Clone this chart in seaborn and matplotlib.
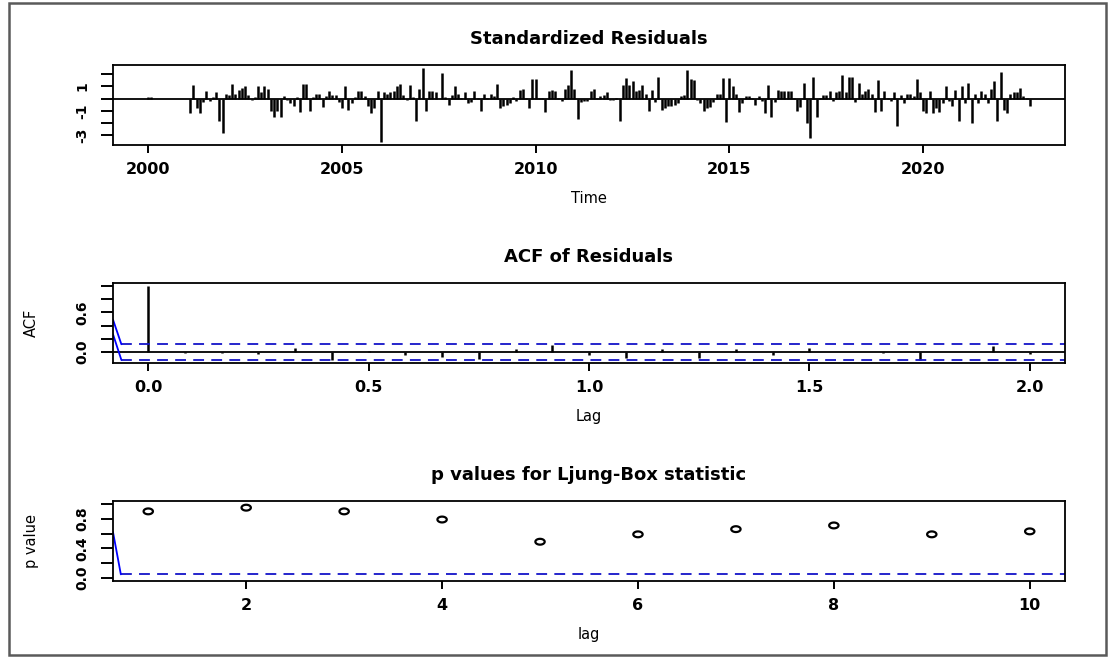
import numpy as np
import matplotlib
matplotlib.use("Agg")
import matplotlib.pyplot as plt
import seaborn as sns
from matplotlib.path import Path
from matplotlib.patches import Rectangle

# standardized residuals, monthly from Jan 2000
start_year = 2000
freq = 12
r2000 = [0.1, 0.1, 0, 0, 0, 0, 0, 0, 0, 0, 0, 0]
r2001 = [0.0, -1.2, 1.1, -0.8, -1.2, -0.3, 0.6, -0.2, 0.1, 0.5, -1.8, -2.8]
r2002 = [0.4, 0.3, 1.2, 0.4, 0.7, 0.9, 1.0, 0.3, -0.1, 0.1, 1.0, 0.5]
r2003 = [1.0, 0.8, -1.0, -1.5, -1.0, -1.5, 0.2, -0.1, -0.4, -0.6, 0.1, -1.1]
r2004 = [1.2, 1.2, -1.0, 0.1, 0.4, 0.4, -0.7, 0.2, 0.6, 0.3, 0.3, -0.3]
r2005 = [-0.8, 1.0, -0.9, -0.4, 0.1, 0.6, 0.6, 0.2, -0.6, -1.2, -0.8, 0.6]
r2006 = [-3.55, 0.5, 0.4, 0.5, 0.6, 1.0, 1.2, 0.3, -0.1, 1.1, 0.1, -1.8]
r2007 = [0.8, 2.5, -1.0, 0.6, 0.6, 0.5, 0.0, 2.1, 0.1, -0.5, 0.3, 1.0]
r2008 = [0.4, 0.05, 0.5, -0.4, -0.3, 0.6, 0.05, -1.0, 0.4, 0.05, 0.4, 0.2]
r2009 = [1.2, -0.8, -0.6, -0.5, -0.4, 0.1, -0.2, 0.7, 0.8, 0.05, -0.8, 1.6]
r2010 = [1.6, 0.05, 0.05, -1.1, 0.6, 0.7, 0.6, 0.05, -0.2, 0.8, 1.1, 2.3]
r2011 = [0.8, -1.7, -0.3, -0.2, -0.2, 0.6, 0.8, 0.05, 0.2, 0.3, 0.5, -0.1]
r2012 = [-0.1, 0.05, -1.8, 1.1, 1.7, 1.1, 1.4, 0.6, 0.7, 1.1, 0.4, -1.0]
r2013 = [0.7, -0.3, 1.8, -0.9, -0.8, -0.6, -0.6, -0.5, -0.4, 0.2, 0.3, 2.3]
r2014 = [1.6, 1.5, -0.1, -0.4, -1.0, -0.8, -0.7, -0.3, 0.4, 0.4, 1.7, -1.9]
r2015 = [1.7, 1.0, 0.4, -1.1, -0.4, 0.2, 0.2, 0.05, -0.5, 0.2, -0.2, -1.2]
r2016 = [1.1, -1.5, -0.3, 0.7, 0.6, 0.6, 0.6, 0.6, 0.05, -1.0, -0.7, 1.3]
r2017 = [-2.0, -3.2, 1.8, -1.5, 0.05, 0.3, 0.3, 0.6, -0.2, 0.5, 0.6, 1.9]
r2018 = [0.5, 1.8, 1.8, -0.3, 1.3, 0.4, 0.6, 0.8, 0.4, -1.1, 1.5, -1.0]
r2019 = [0.6, 0.05, -0.2, 0.5, -2.2, 0.3, -0.4, 0.4, 0.4, 0.2, 1.6, 0.5]
r2020 = [-1.0, -1.2, 0.6, -1.2, -0.8, -1.1, -0.4, 1.0, -0.2, -0.6, 0.7, -1.8]
r2021 = [1.0, -0.4, 1.3, -2.0, 0.4, -0.4, 0.6, 0.4, -0.4, 0.8, 1.4, -1.8]
r2022 = [2.2, -0.9, -1.2, 0.4, 0.5, 0.5, 0.9, 0.2, 0.05, -0.6]
year_ticks = [2000, 2005, 2010, 2015, 2020]
resid_yticks = [-3, -2, -1, 0, 1, 2]
resid_ylabels = ["-3", "", "-1", "", "1", ""]

# ACF of residuals, lags 0..24 (in years)
acf_vals = [1.0, -0.02, -0.01, -0.03, 0.06, -0.12, 0.01, -0.05, -0.07, -0.10, 0.05, 0.11,
            -0.05, -0.09, 0.04, -0.09, 0.05, -0.04, 0.06, 0.0, -0.02, -0.12, 0.0, 0.09, -0.03]
acf_ci = 0.1186
acf_xticks = [0.0, 0.5, 1.0, 1.5, 2.0]
acf_yticks = [0.0, 0.2, 0.4, 0.6, 0.8, 1.0]
acf_ylabels = ["0.0", "", "", "0.6", "", ""]
# stray blue strokes at the left edge of the ACF panel
acf_stub_x = [-0.08, -0.061]
acf_stub_hi = [0.49, 0.1186]
acf_stub_lo = [0.27, -0.1186]

# Ljung-Box p-values
lb_lags = [1, 2, 3, 4, 5, 6, 7, 8, 9, 10]
lb_pvals = [0.90, 0.95, 0.90, 0.79, 0.49, 0.59, 0.66, 0.71, 0.59, 0.63]
lb_level = 0.05
lb_xticks = [2, 4, 6, 8, 10]
lb_yticks = [0.0, 0.2, 0.4, 0.6, 0.8, 1.0]
lb_ylabels = ["0.0", "", "0.4", "", "0.8", ""]
lb_stub_x = [0.64, 0.72]
lb_stub_y = [0.62, 0.05]

resid = np.concatenate([r2000, r2001, r2002, r2003, r2004, r2005, r2006, r2007,
                        r2008, r2009, r2010, r2011, r2012, r2013, r2014, r2015,
                        r2016, r2017, r2018, r2019, r2020, r2021, r2022])
t = start_year + np.arange(len(resid)) / freq
acf_lags = np.arange(len(acf_vals)) / freq


def r_lim(lo, hi):
    # R style 4% padding
    d = (hi - lo) * 0.04
    return lo - d, hi + d


sns.set_theme(style="ticks")
plt.rcParams['font.family'] = ['DejaVu Sans']
plt.rcParams['axes.linewidth'] = 1.3
plt.rcParams['text.color'] = 'black'
plt.rcParams['axes.labelcolor'] = 'black'

fig = plt.figure(figsize=(11.13, 6.57), dpi=100)
L, W = 113 / 1113, 952 / 1113
ax1 = fig.add_axes([L, 1 - 145 / 657, W, 80 / 657])
ax2 = fig.add_axes([L, 1 - 363 / 657, W, 80 / 657])
ax3 = fig.add_axes([L, 1 - 581 / 657, W, 80 / 657])

dash = (0, (6, 4))
ci_color = "#1414c8"

# 1. Standardized residuals
ax1.vlines(t, 0, resid, colors="black", lw=1.8)
ax1.axhline(0, color="black", lw=1.3)
ax1.set_xlim(*r_lim(t.min(), t.max()))
ax1.set_ylim(*r_lim(resid.min(), resid.max()))
ax1.set_xticks(year_ticks, [str(y) for y in year_ticks], fontweight="bold")
ax1.set_yticks(resid_yticks, resid_ylabels, fontweight="bold")

# 2. ACF of residuals
ax2.vlines(acf_lags, 0, acf_vals, colors="black", lw=1.8)
ax2.axhline(0, color="black", lw=1.3)
acf_xlim = r_lim(acf_lags.min(), acf_lags.max())
ax2.set_xlim(*acf_xlim)
ax2.set_ylim(*r_lim(min(min(acf_vals), -acf_ci), max(acf_vals)))
ax2.hlines([acf_ci, -acf_ci], acf_stub_x[1], acf_xlim[1], colors=ci_color, lw=1.3, linestyles=dash)
sns.lineplot(x=acf_stub_x, y=acf_stub_hi, ax=ax2, color="blue", lw=1.3)
sns.lineplot(x=acf_stub_x, y=acf_stub_lo, ax=ax2, color="blue", lw=1.3)
ax2.set_xticks(acf_xticks, [f"{v:.1f}" for v in acf_xticks], fontweight="bold")
ax2.set_yticks(acf_yticks, acf_ylabels, fontweight="bold")

# 3. Ljung-Box p-values
theta = np.linspace(0, 2 * np.pi, 41)
ellipse = Path(np.column_stack([1.6 * np.cos(theta), np.sin(theta)]), closed=True)
sns.scatterplot(x=lb_lags, y=lb_pvals, ax=ax3, marker=ellipse, s=45, linewidth=1.6)
pts = ax3.collections[-1]
pts.set_facecolor("none")
pts.set_edgecolor("black")
lb_xlim = r_lim(min(lb_lags), max(lb_lags))
ax3.set_xlim(*lb_xlim)
ax3.set_ylim(*r_lim(0, 1))
ax3.hlines(lb_level, lb_stub_x[1], lb_xlim[1], colors=ci_color, lw=1.3, linestyles=dash)
sns.lineplot(x=lb_stub_x, y=lb_stub_y, ax=ax3, color="blue", lw=1.3)
ax3.set_xticks(lb_xticks, [str(v) for v in lb_xticks], fontweight="bold")
ax3.set_yticks(lb_yticks, lb_ylabels, fontweight="bold")

panels = [(ax1, "Standardized Residuals", "Time", ""),
          (ax2, "ACF of Residuals", "Lag", "ACF"),
          (ax3, "p values for Ljung-Box statistic", "lag", "p value")]
for ax, title, xl, yl in panels:
    for s in ax.spines.values():
        s.set_visible(True)
        s.set_color("black")
        s.set_linewidth(1.3)
    ax.tick_params(axis="x", direction="out", length=6, width=1.4, pad=6, labelsize=11.5,
                   colors="black", labelcolor="black")
    ax.tick_params(axis="y", direction="out", length=9, width=1.4, pad=8, labelsize=10,
                   colors="black", labelcolor="black")
    for lab in ax.get_yticklabels():
        lab.set_rotation(90)
        lab.set_va("center")
    ax.set_title(title, fontsize=13, fontweight="bold", pad=15, color="black")
    ax.set_xlabel(xl, fontsize=10.5, labelpad=10)
    ax.set_ylabel(yl, fontsize=10.5)
    ax.yaxis.set_label_coords(-74 / 952, 0.5)
    ax.grid(False)

fig.patches.append(Rectangle((9 / 1113, 2 / 657), 1097 / 1113, 652 / 657, transform=fig.transFigure,
                             fill=False, edgecolor="#5a5a5a", lw=1.8))

fig.savefig("out.png", dpi=100)
